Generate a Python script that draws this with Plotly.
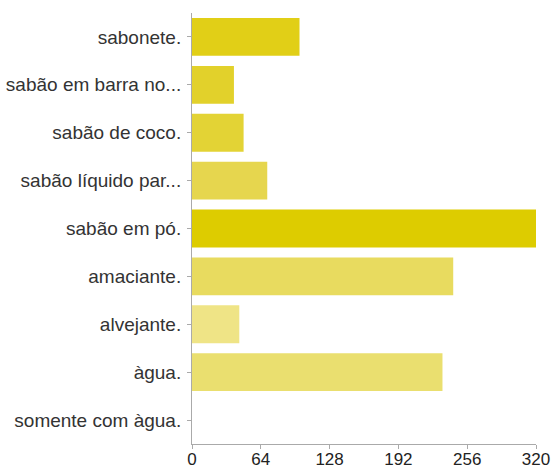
import plotly.graph_objects as go

categories = [
    "sabonete.",
    "sabão em barra no...",
    "sabão de coco.",
    "sabão líquido par...",
    "sabão em pó.",
    "amaciante.",
    "alvejante.",
    "àgua.",
    "somente com àgua.",
]
counts = [100, 39, 48, 70, 320, 243, 44, 233, 0]
bar_colors = [
    "#E1CF17",
    "#E2D12B",
    "#E3D335",
    "#E6D64E",
    "#DDCC00",
    "#E8DB5F",
    "#EFE486",
    "#EADF6F",
    "#F3EBA6",
]
tick_values = [0, 64, 128, 192, 256, 320]

fig = go.Figure(
    go.Bar(
        x=counts,
        y=categories,
        orientation="h",
        marker=dict(color=bar_colors, line=dict(width=0)),
    )
)

fig.update_layout(
    width=552,
    height=470,
    margin=dict(l=192, r=16, t=13, b=26),
    paper_bgcolor="white",
    plot_bgcolor="white",
    bargap=0.21,
    showlegend=False,
    font=dict(family="Liberation Sans, Arial, sans-serif", size=19, color="#333333"),
)

fig.update_xaxes(
    range=[0, 320],
    tickvals=tick_values,
    automargin=False,
    ticklabeloverflow="allow",
    showgrid=False,
    zeroline=False,
    showline=True,
    linecolor="#AAAAAA",
    linewidth=1,
    ticks="outside",
    ticklen=4,
    tickcolor="#AAAAAA",
    ticklabelstandoff=-4,
    tickfont=dict(size=17, color="#222222"),
)
fig.update_yaxes(
    categoryorder="array",
    categoryarray=categories,
    autorange="reversed",
    automargin=False,
    showgrid=False,
    zeroline=False,
    showline=True,
    linecolor="#AAAAAA",
    linewidth=1,
    ticks="outside",
    ticklen=4,
    tickcolor="#AAAAAA",
    ticklabelstandoff=2,
    tickfont=dict(size=19, color="#333333"),
)

fig.write_html("out.html")
